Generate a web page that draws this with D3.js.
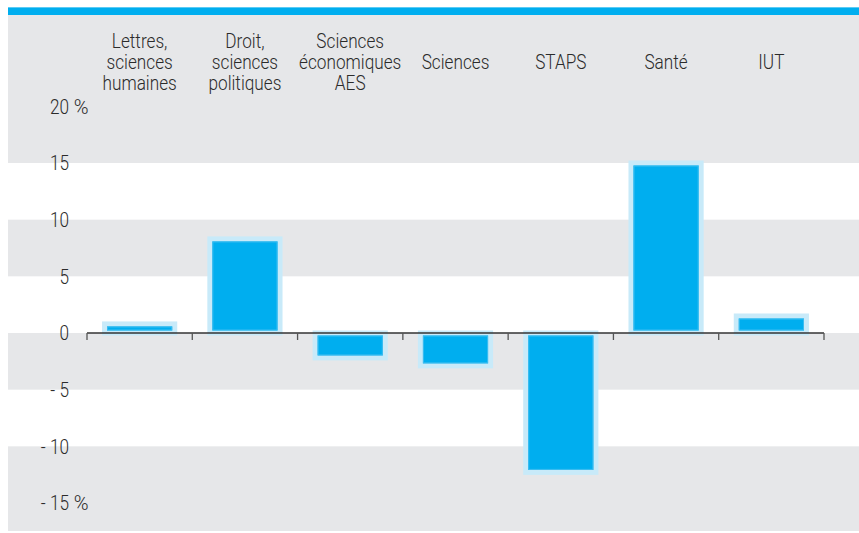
<!DOCTYPE html>
<html><head><meta charset="utf-8">
<script src="https://cdn.jsdelivr.net/npm/d3@7"></script>
<style>
html,body{margin:0;padding:0;background:#fff;}
text{font-family:Roboto,"Liberation Sans",sans-serif;font-weight:300;fill:#2b2b2b;}
</style></head>
<body>
<svg id="c" width="859" height="533"></svg>
<script>
const categories = [
  ["Lettres,","sciences","humaines"],
  ["Droit,","sciences","politiques"],
  ["Sciences","économiques","AES"],
  ["Sciences"],
  ["STAPS"],
  ["Santé"],
  ["IUT"]
];
const values = [0.8, 8.3, -2.2, -2.9, -12.3, 15.0, 1.5];
const tickValues = [20, 15, 10, 5, 0, -5, -10, -15];
const tickLabels = ["20", "15", "10", "5", "0", "- 5", "- 10", "- 15"];
const tickSuffix = [" %", "", "", "", "", "", "", " %"];

const W = 859, H = 533;
const SX = 0.86; // horizontal condensing
const svg = d3.select("#c");
const y = d3.scaleLinear().domain([-15, 15]).range([503, 163]);
const x = d3.scaleBand().domain(d3.range(categories.length)).range([87, 824])
  .paddingInner(1/3).paddingOuter(1/6);
const xStep = d3.scaleBand().domain(d3.range(categories.length)).range([87, 824]);

// background stripes
const plotLeft = 8, bgTop = 15, bgBottom = 531;
const stripes = [[null, 15], [10, 5], [0, -5], [-10, null]];
svg.selectAll("rect.stripe").data(stripes).enter().append("rect")
  .attr("class","stripe")
  .attr("x", plotLeft).attr("width", W - plotLeft)
  .attr("y", d => d[0] === null ? bgTop : y(d[0]))
  .attr("height", d => (d[1] === null ? bgBottom : y(d[1])) - (d[0] === null ? bgTop : y(d[0])))
  .attr("fill", "#e6e7e9");

// top blue band
svg.append("rect").attr("x", plotLeft).attr("y", 7).attr("width", W - plotLeft).attr("height", 8).attr("fill", "#00aeef");
svg.append("rect").attr("x", plotLeft).attr("y", 7).attr("width", W - plotLeft).attr("height", 1).attr("fill", "#5ccbf4");

// bars
const bars = svg.selectAll("g.bar").data(values).enter().append("g").attr("class","bar");
bars.append("rect")
  .attr("x", (d,i) => x(i)).attr("width", x.bandwidth())
  .attr("y", d => y(Math.max(0,d))).attr("height", d => Math.abs(y(d) - y(0)))
  .attr("fill", "#00aeef").attr("stroke", "#c8eaf9").attr("stroke-width", 5);
bars.append("rect")
  .attr("x", (d,i) => x(i) + 3).attr("width", x.bandwidth() - 6)
  .attr("y", d => y(Math.max(0,d)) + 3).attr("height", d => Math.max(0, Math.abs(y(d) - y(0)) - 6))
  .attr("fill", "none").attr("stroke", "#3dbdf0").attr("stroke-width", 1);

// axis
const axisG = svg.append("g").attr("transform", `translate(0,${y(0)})`);
axisG.append("line").attr("x1", 87).attr("x2", 824).attr("y1", 0).attr("y2", 0)
  .attr("stroke", "#333").attr("stroke-width", 1.5);
const tickXs = d3.range(categories.length).map(i => xStep(i)).concat([824]);
axisG.selectAll("line.tk").data(tickXs).enter().append("line").attr("class","tk")
  .attr("x1", d => d).attr("x2", d => d).attr("y1", 0).attr("y2", 7)
  .attr("stroke", "#555").attr("stroke-width", 1.3);

// y tick labels
const yl = svg.selectAll("g.yl").data(tickValues).enter().append("g").attr("class","yl")
  .attr("transform", d => `translate(69,${y(d)})`);
yl.append("text").attr("text-anchor","end").attr("dy","0.36em").attr("font-size", 20)
  .attr("transform", `scale(${SX},1)`)
  .text((d,i) => tickLabels[i]);
yl.append("text").attr("text-anchor","start").attr("dy","0.36em").attr("font-size", 20)
  .attr("xml:space","preserve").style("white-space","pre")
  .text((d,i) => tickSuffix[i]);

// category labels
const lineH = 21, midBase = 69;
const cl = svg.selectAll("text.cat").data(categories).enter().append("text").attr("class","cat")
  .attr("text-anchor","middle").attr("font-size", 20)
  .attr("transform", (d,i) => `translate(${x(i) + x.bandwidth()/2},0) scale(${SX},1)`);
cl.selectAll("tspan").data(d => d.map((t,j) => ({t, j, n: d.length}))).enter().append("tspan")
  .attr("x", 0)
  .attr("y", d => midBase + (d.j - (d.n - 1)/2) * lineH)
  .text(d => d.t);
</script>
</body></html>
